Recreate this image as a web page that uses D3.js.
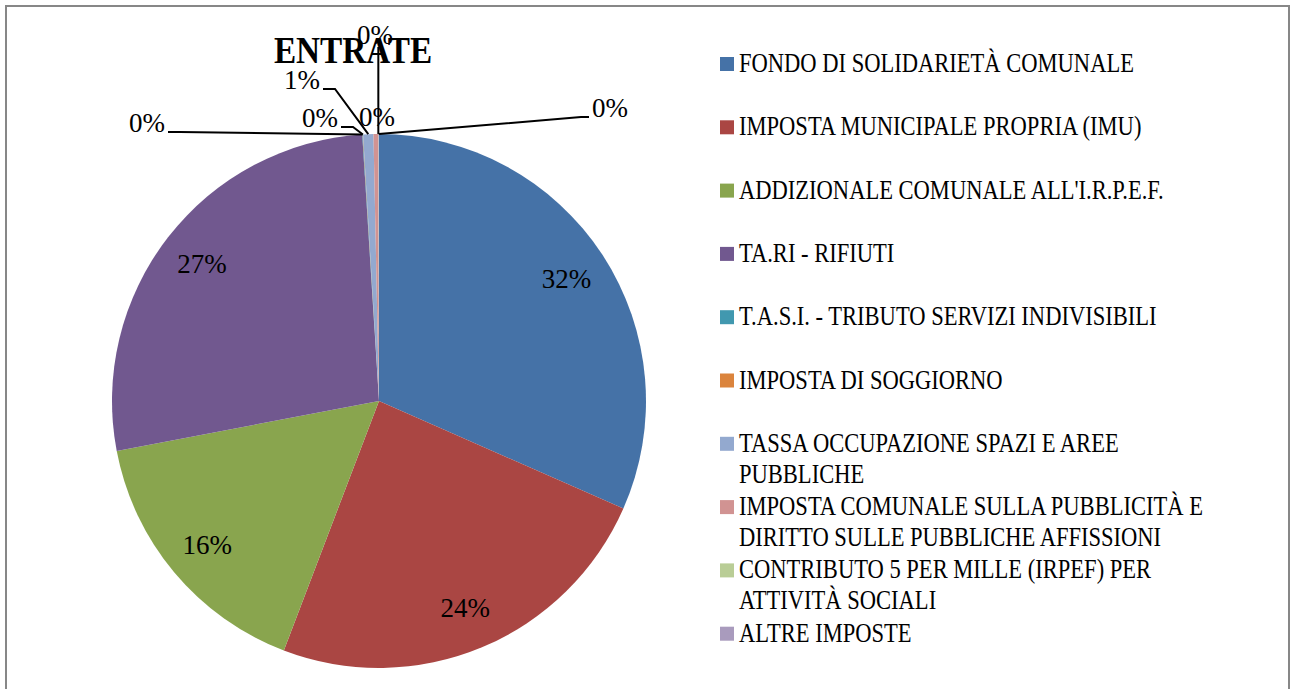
<!DOCTYPE html>
<html>
<head>
<meta charset="utf-8">
<script src="https://cdn.jsdelivr.net/npm/d3@7"></script>
<style>
  body { margin: 0; background: #fff; }
  svg { display: block; }
  text { font-family: "Liberation Serif", "DejaVu Serif", serif; fill: #000; }
</style>
</head>
<body>
<svg id="chart"></svg>
<script>
// data
var categories = [
  "FONDO DI SOLIDARIETÀ COMUNALE",
  "IMPOSTA MUNICIPALE PROPRIA (IMU)",
  "ADDIZIONALE COMUNALE ALL'I.R.P.E.F.",
  "TA.RI - RIFIUTI",
  "T.A.S.I. - TRIBUTO SERVIZI INDIVISIBILI",
  "IMPOSTA DI SOGGIORNO",
  "TASSA OCCUPAZIONE SPAZI E AREE PUBBLICHE",
  "IMPOSTA COMUNALE SULLA PUBBLICITÀ E DIRITTO SULLE PUBBLICHE AFFISSIONI",
  "CONTRIBUTO 5 PER MILLE (IRPEF) PER ATTIVITÀ SOCIALI",
  "ALTRE IMPOSTE"
];
var values = [31.6, 24.2, 16.2, 27.0, 0.03, 0.02, 0.62, 0.28, 0.02, 0.03];
var colors = ["#4572A7", "#AA4643", "#89A54E", "#71588F", "#4198AF",
              "#DB843D", "#93A9CF", "#D19392", "#B9CD96", "#A99BBD"];
var title = "ENTRATE";

// where the small slice labels sit (offset from pie centre), layout only
var outsideLabels = {
  4: [-232, -278],
  5: [-59, -283],
  6: [-77, -321],
  7: [-2, -284],
  8: [-4, -366],
  9: [231, -293]
};

(function(fn) {
  if (document.readyState !== 'loading') fn();
  else document.addEventListener('DOMContentLoaded', fn);
})(function() {
  var WIDTH = 1291, HEIGHT = 689;
  var cx = 379, cy = 401, R = 267;
  var legendScale = 0.835;

  var svg = d3.select("#chart").attr("width", WIDTH).attr("height", HEIGHT);

  svg.append("rect")
    .attr("x", 6).attr("y", 6)
    .attr("width", 1283).attr("height", 700)
    .attr("fill", "none")
    .attr("stroke", "#878787")
    .attr("stroke-width", 2);

  var total = d3.sum(values);
  var pie = d3.pie().sort(null).value(function(d) { return d; });
  var arcs = pie(values);
  var arc = d3.arc().innerRadius(0).outerRadius(R);
  var labelArc = d3.arc().innerRadius(224).outerRadius(224);

  var g = svg.append("g").attr("transform", "translate(" + cx + "," + cy + ")");

  g.selectAll("path.slice")
    .data(arcs)
    .enter()
    .append("path")
    .attr("class", "slice")
    .attr("d", arc)
    .attr("fill", function(d, i) { return colors[i]; });

  function pct(v) { return Math.round(v / total * 100) + "%"; }

  // labels inside the big slices
  arcs.forEach(function(d, i) {
    if (outsideLabels[i]) return;
    var c = labelArc.centroid(d);
    g.append("text")
      .attr("x", c[0]).attr("y", c[1])
      .attr("text-anchor", "middle")
      .attr("dominant-baseline", "central")
      .style("font-size", "27px")
      .text(pct(d.data));
  });

  // small slices: labels outside with leader lines
  arcs.forEach(function(d, i) {
    var pos = outsideLabels[i];
    if (!pos) return;
    var t = g.append("text")
      .attr("x", pos[0]).attr("y", pos[1])
      .attr("text-anchor", "middle")
      .attr("dominant-baseline", "central")
      .style("font-size", "27px")
      .text(pct(d.data));
    var half = t.node().getComputedTextLength() / 2;
    var mid = (d.startAngle + d.endAngle) / 2;
    var ax = Math.sin(mid) * R, ay = -Math.cos(mid) * R;
    var dist = Math.hypot(pos[0] - ax, pos[1] - ay);
    if (dist < 30) return;
    var pts;
    if (Math.abs(pos[0] - ax) < 15) {
      pts = [[ax, pos[1] + 12], [ax, ay]];
    } else if (pos[0] < ax) {
      var sx = pos[0] + half + 3, sy = pos[1] + 9;
      pts = [[sx, sy], [sx + 12, sy], [ax, ay]];
    } else {
      var sx2 = pos[0] - half - 3, sy2 = pos[1] + 9;
      pts = [[sx2, sy2], [sx2 - 8, sy2], [ax, ay]];
    }
    g.insert("path", "text")
      .attr("d", d3.line()(pts))
      .attr("fill", "none")
      .attr("stroke", "#000")
      .attr("stroke-width", 2);
  });

  // title
  svg.append("text")
    .attr("transform", "translate(353,63) scale(0.875,1)")
    .attr("text-anchor", "middle")
    .style("font-size", "38px")
    .style("font-weight", "bold")
    .text(title);

  // legend
  var legendX = 720, textX = 739, maxW = 500, pitch = 63.3, lineH = 31;
  var legend = svg.append("g");
  categories.forEach(function(name, i) {
    var base = 72 + i * pitch;
    legend.append("rect")
      .attr("x", legendX).attr("y", base - 15)
      .attr("width", 14).attr("height", 14)
      .attr("fill", colors[i]);
    var words = name.split(" ");
    var line = [], lineNo = 0;
    var t = legend.append("text")
      .attr("transform", "translate(" + textX + "," + base + ") scale(" + legendScale + ",1)")
      .style("font-size", "27px");
    var span = t.append("tspan").attr("x", 0).attr("y", 0);
    words.forEach(function(w) {
      line.push(w);
      span.text(line.join(" "));
      if (span.node().getComputedTextLength() * legendScale > maxW && line.length > 1) {
        line.pop();
        span.text(line.join(" "));
        line = [w];
        lineNo++;
        span = t.append("tspan").attr("x", 0).attr("y", lineNo * lineH).text(w);
      }
    });
  });
});
</script>
</body>
</html>
